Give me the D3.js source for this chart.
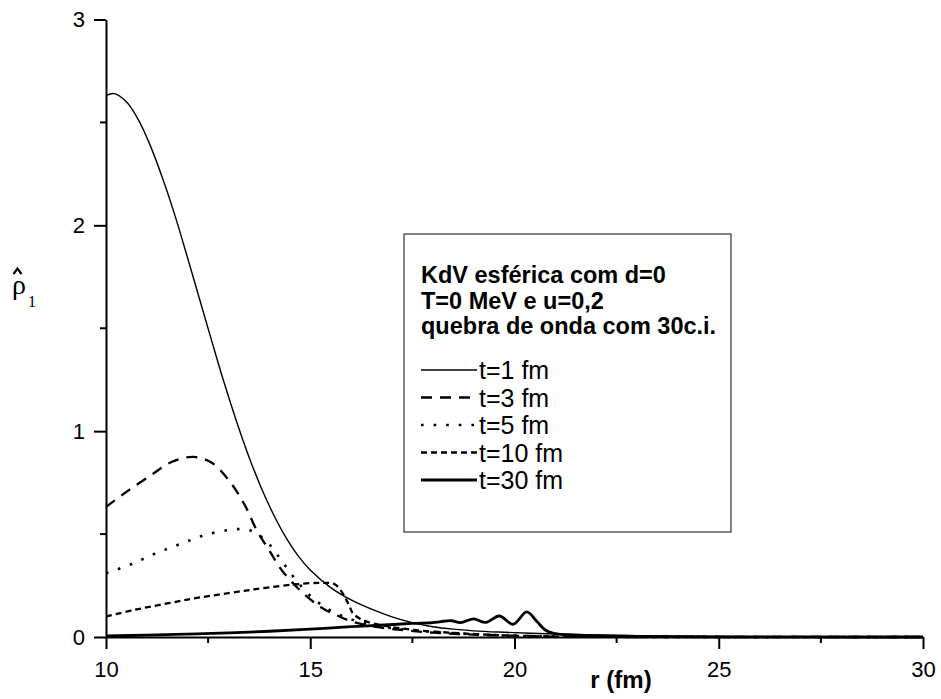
<!DOCTYPE html>
<html>
<head>
<meta charset="utf-8">
<script src="https://cdn.jsdelivr.net/npm/d3@7"></script>
<style>
  body { margin: 0; background: #fff; }
  svg { display: block; }
</style>
</head>
<body>
<svg id="chart"></svg>
<script>
// values, r in fm
const rT1 = [10, 10.2, 10.5, 10.8, 11.1, 11.4, 11.7, 12.0, 12.3, 12.6, 12.9, 13.2, 13.5, 13.8, 14.1, 14.4, 14.7, 15.0, 15.5, 16.0, 16.5, 17.0, 17.5, 18.0, 18.5, 19.0, 19.6, 20.8, 22, 23, 24, 26, 30];
const vT1 = [2.63, 2.64, 2.60, 2.51, 2.38, 2.22, 2.04, 1.84, 1.635, 1.43, 1.23, 1.045, 0.875, 0.725, 0.595, 0.485, 0.395, 0.325, 0.24, 0.18, 0.135, 0.098, 0.07, 0.05, 0.038, 0.03, 0.024, 0.016, 0.01, 0.006, 0.004, 0.002, 0.001];

const rT3 = [10, 10.5, 11.1, 11.6, 12.15, 12.6, 13.05, 13.4, 13.7, 14.0, 14.3, 14.75, 15.25, 15.65, 16.05, 16.6, 17.3, 18, 19, 20, 21, 22, 30];
const vT3 = [0.632, 0.705, 0.786, 0.85, 0.875, 0.845, 0.75, 0.64, 0.515, 0.42, 0.325, 0.227, 0.146, 0.105, 0.073, 0.049, 0.033, 0.021, 0.012, 0.006, 0.002, 0.001, 0];

const rT5 = [10, 10.6, 11.2, 11.85, 12.45, 13.1, 13.45, 13.7, 14.0, 14.3, 14.6, 15.0, 15.4, 15.8, 16.3, 17, 18, 19, 20, 21, 22, 30];
const vT5 = [0.31, 0.352, 0.405, 0.454, 0.497, 0.522, 0.523, 0.5, 0.45, 0.37, 0.29, 0.2, 0.14, 0.1, 0.068, 0.043, 0.025, 0.013, 0.006, 0.002, 0.001, 0];

const rT10 = [10, 10.7, 11.5, 12.3, 13.3, 13.8, 14.6, 15.25, 15.6, 15.8, 15.95, 16.05, 16.3, 16.8, 17.5, 18.5, 19.5, 20.5, 21.5, 30];
const vT10 = [0.1, 0.132, 0.163, 0.192, 0.222, 0.236, 0.255, 0.263, 0.256, 0.211, 0.154, 0.114, 0.081, 0.055, 0.035, 0.02, 0.01, 0.004, 0.001, 0];

const rT30 = [10, 11, 12, 13, 14, 15, 16, 16.7, 17.5, 18.0, 18.2, 18.45, 18.68, 19.0, 19.3, 19.63, 19.97, 20.3, 20.55, 20.76, 20.96, 21.3, 22, 23, 25, 30];
const vT30 = [0.005, 0.009, 0.014, 0.02, 0.028, 0.038, 0.05, 0.057, 0.066, 0.07, 0.075, 0.079, 0.07, 0.088, 0.071, 0.102, 0.062, 0.122, 0.075, 0.033, 0.018, 0.011, 0.006, 0.003, 0.001, 0];

const xTicks = [10, 15, 20, 25, 30];
const xMinor = [12.5, 17.5, 22.5, 27.5];
const yTicks = [0, 1, 2, 3];
const yMinor = [0.5, 1.5, 2.5];

const legendTitle = ["KdV esférica com d=0", "T=0 MeV e u=0,2", "quebra de onda com 30c.i."];
const seriesNames = ["t=1 fm", "t=3 fm", "t=5 fm", "t=10 fm", "t=30 fm"];

const W = 941, H = 699;
const sans = "'Liberation Sans', Arial, sans-serif";

const svg = d3.select("#chart").attr("width", W).attr("height", H);

const x = d3.scaleLinear().domain([10, 30]).range([106, 923]);
const y = d3.scaleLinear().domain([0, 3]).range([637, 19.5]);

// line styles for each series
const styles = [
  { width: 1.4, dash: null },
  { width: 2.3, dash: "11,8" },
  { width: 2.6, dash: "2.6,10" },
  { width: 2.3, dash: "6,4" },
  { width: 2.8, dash: null }
];
const series = [
  d3.zip(rT1, vT1), d3.zip(rT3, vT3), d3.zip(rT5, vT5), d3.zip(rT10, vT10), d3.zip(rT30, vT30)
];

const line = d3.line()
  .x(d => x(d[0]))
  .y(d => y(Math.max(0, d[1])))
  .curve(d3.curveCatmullRom.alpha(0.5));

svg.append("g").selectAll("path")
  .data(series)
  .join("path")
  .attr("d", line)
  .attr("fill", "none")
  .attr("stroke", "#000")
  .attr("stroke-width", (d, i) => styles[i].width)
  .attr("stroke-dasharray", (d, i) => styles[i].dash);

// axes
const xAxis = svg.append("g")
  .attr("transform", `translate(0,${y(0)})`)
  .call(d3.axisBottom(x).tickValues(xTicks).tickFormat(d3.format("d"))
    .tickSize(12).tickSizeOuter(0).tickPadding(8));
xAxis.append("g").selectAll("line")
  .data(xMinor).join("line")
  .attr("x1", d => x(d)).attr("x2", d => x(d))
  .attr("y1", 0).attr("y2", 6);

const yAxis = svg.append("g")
  .attr("transform", `translate(${x(10)},0)`)
  .call(d3.axisLeft(y).tickValues(yTicks).tickFormat(d3.format("d"))
    .tickSize(12).tickSizeOuter(0).tickPadding(9));
yAxis.append("g").selectAll("line")
  .data(yMinor).join("line")
  .attr("y1", d => y(d)).attr("y2", d => y(d))
  .attr("x1", 0).attr("x2", -6);

[xAxis, yAxis].forEach(g => {
  g.selectAll("path.domain").attr("stroke", "#000").attr("stroke-width", 2);
  g.selectAll("line").attr("stroke", "#000").attr("stroke-width", 2);
  g.selectAll("text").attr("fill", "#000").style("font-family", sans).style("font-size", "22px");
});
xAxis.selectAll(".tick text").attr("dy", "0.9em");

// axis titles
svg.append("text")
  .attr("x", 621).attr("y", 688)
  .attr("text-anchor", "middle")
  .style("font-family", sans).style("font-size", "24px").style("font-weight", "bold")
  .text("r (fm)");

const yl = svg.append("g").style("font-family", "'Liberation Serif', 'Times New Roman', serif");
yl.append("text").attr("x", 12).attr("y", 294).style("font-size", "28px").text("ρ");
// circumflex over rho
yl.append("path")
  .attr("d", "M13.5,274 L17.5,268.5 L21.5,274")
  .attr("fill", "none").attr("stroke", "#000").attr("stroke-width", 2.2);
yl.append("text").attr("x", 28).attr("y", 307).style("font-size", "16px").text("1");

// legend
const lg = svg.append("g");
lg.append("rect")
  .attr("x", 404).attr("y", 234).attr("width", 327).attr("height", 298)
  .attr("fill", "#fff").attr("stroke", "#333").attr("stroke-width", 1.2);

lg.selectAll("text.title")
  .data(legendTitle).join("text")
  .attr("class", "title")
  .attr("x", 421).attr("y", (d, i) => 283 + i * 25.5)
  .style("font-family", sans).style("font-size", "23.5px").style("font-weight", "bold")
  .text(d => d);

const rows = lg.selectAll("g.row")
  .data(seriesNames).join("g")
  .attr("class", "row")
  .attr("transform", (d, i) => `translate(0,${370 + i * 27.5})`);
rows.append("line")
  .attr("x1", 421).attr("x2", 477).attr("y1", 0).attr("y2", 0)
  .attr("stroke", "#000")
  .attr("stroke-width", (d, i) => styles[i].width)
  .attr("stroke-dasharray", (d, i) => styles[i].dash);
rows.append("text")
  .attr("x", 479).attr("y", 9)
  .style("font-family", sans).style("font-size", "25px")
  .text(d => d);
</script>
</body>
</html>
